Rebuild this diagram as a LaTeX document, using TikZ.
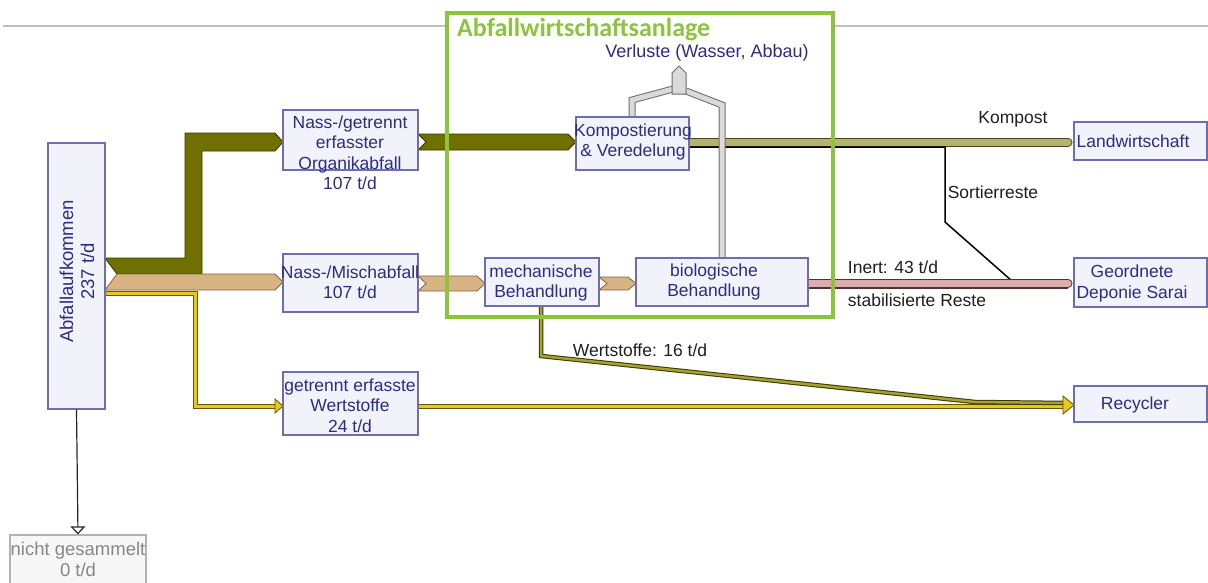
\documentclass[tikz,border=0pt]{standalone}
\usepackage{fontspec}
\setmainfont{Liberation Sans}
\newfontfamily\titlefont{Carlito}
\usetikzlibrary{arrows.meta}
\definecolor{boxfill}{RGB}{242,242,250}
\definecolor{boxdraw}{RGB}{110,110,175}
\definecolor{navy}{RGB}{45,45,125}
\definecolor{labcol}{RGB}{30,30,30}
\definecolor{greenbox}{RGB}{140,196,60}
\definecolor{olive}{RGB}{112,112,0}
\definecolor{olivedk}{RGB}{55,55,0}
\definecolor{tan}{RGB}{216,179,131}
\definecolor{tandk}{RGB}{130,100,60}
\definecolor{gold}{RGB}{232,200,30}
\definecolor{golddk}{RGB}{100,85,0}
\definecolor{kompcol}{RGB}{180,180,108}
\definecolor{kompdk}{RGB}{70,70,35}
\definecolor{pinkcol}{RGB}{221,172,172}
\definecolor{pinkdk}{RGB}{80,50,50}
\definecolor{wertcol}{RGB}{168,160,48}
\definecolor{lossfill}{RGB}{218,218,218}
\definecolor{lossdk}{RGB}{110,110,110}
\definecolor{greytxt}{RGB}{135,135,135}
\newcommand\myband[6]{%
 \filldraw[fill=#5,draw=#6,line width=0.8pt] (#1,#3) -- ({#2-8},#3) -- (#2,{(#3+#4)/2}) -- ({#2-8},#4) -- (#1,#4) -- ({#1+8},{(#3+#4)/2}) -- cycle;}
\tikzset{
 box/.style={draw=boxdraw,fill=boxfill,line width=1.3pt,rectangle,inner sep=0pt},
 btxt/.style={text=navy,align=center,inner sep=0pt,font=\fontsize{17.5}{20.5}\selectfont},
 ltxt/.style={text=labcol,inner sep=0pt,font=\fontsize{17.5}{20.5}\selectfont},
}
\begin{document}
\begin{tikzpicture}[x=1pt,y=-1pt]
\useasboundingbox (0,0) rectangle (1208,582);
% top rule
\draw[color=gray!50,line width=1.2pt] (3,26) -- (1208,26);
% green area background
\fill[white] (447,13) rectangle (833,317);
% bands
\filldraw[fill=olive,draw=olivedk,line width=0.8pt] (105,258) -- (185,258) -- (185,133) -- (275,133) -- (283,142) -- (275,151) -- (202,151) -- (202,274) -- (117,274) -- cycle;
\filldraw[fill=tan,draw=tandk,line width=0.8pt] (117,274) -- (275,274) -- (283,282) -- (275,290) -- (105,290) -- cycle;
\draw[draw=golddk,double=gold,double distance=3pt,line width=1pt] (105,293) -- (195,293) -- (195,406) -- (276,406);
\filldraw[fill=gold,draw=golddk,line width=0.8pt] (275,399) -- (283,406) -- (275,413) -- cycle;
\myband{418}{576}{134}{150}{olive}{olivedk}
\myband{418}{485}{276}{291}{tan}{tandk}
\myband{599}{636}{277}{290}{tan}{tandk}
% yellow to recycler
\draw[draw=golddk,double=gold,double distance=3pt,line width=1pt] (418,406) -- (1066,406);
\draw[draw=olivedk,double=wertcol,double distance=2.5pt,line width=1pt] (541,306) -- (541,356) -- (975,402) -- (1066,403);
\filldraw[fill=gold,draw=golddk,line width=0.8pt] (1063,396) -- (1074,405) -- (1063,414) -- cycle;
% kompost
\draw[draw=kompdk,double=kompcol,double distance=7pt,line width=1pt,line cap=round] (689,142) -- (1068,142);
\draw[black,line width=1.5pt] (689,147) -- (945,147) -- (945,222) -- (1012,281);
% inert
\draw[draw=pinkdk,double=pinkcol,double distance=7pt,line width=1pt,line cap=round] (808,283) -- (1068,283);
\draw[pinkdk,line width=1.3pt] (808,288) -- (1068,288);
% losses
\draw[draw=lossdk,double=lossfill,double distance=5pt,line width=1pt] (632,117) -- (632,100) -- (673,89);
\draw[draw=lossdk,double=lossfill,double distance=5pt,line width=1pt] (722,258) -- (722,105) -- (686,91);
\filldraw[fill=lossfill,draw=lossdk,line width=1pt] (672,94) -- (672,73) -- (679,66) -- (686,73) -- (686,94) -- cycle;
% boxes
\node[box,minimum width=57pt,minimum height=266pt] (abfall) at (76.5,276) {};
\node[box,minimum width=135pt,minimum height=60pt] (org) at (350.5,140) {};
\node[box,minimum width=135pt,minimum height=58pt] (misch) at (350.5,283) {};
\node[box,minimum width=135pt,minimum height=63pt] (wert) at (350.5,403.5) {};
\node[box,minimum width=113pt,minimum height=53pt] (komp) at (632.5,143.5) {};
\node[box,minimum width=114pt,minimum height=48pt] (mech) at (542,282) {};
\node[box,minimum width=172pt,minimum height=48pt] (bio) at (722,282) {};
\node[box,minimum width=133pt,minimum height=38pt] (land) at (1140.5,141) {};
\node[box,minimum width=133pt,minimum height=49pt] (dep) at (1140.5,282.5) {};
\node[box,minimum width=133pt,minimum height=36pt] (rec) at (1140.5,404) {};
\node[box,draw=gray!60,fill=gray!6,minimum width=136pt,minimum height=50pt] (nicht) at (78,560) {};
\draw[color=gray!30!black,line width=1.2pt,-{Triangle[open,width=15pt,length=8pt]}] (abfall.south) -- (nicht.north);
% texts
\node[btxt,rotate=90,font=\fontsize{18.5}{21}\selectfont] (tabfall) at (77,271.5) {Abfallaufkommen\\237 t/d};
\node[btxt] (torg) at (350,152.5) {Nass-/getrennt\\erfasster\\Organikabfall\\107 t/d};
\node[btxt] (tmisch) at (350,282) {Nass-/Mischabfall\\107 t/d};
\node[btxt] (twert) at (350,405.5) {getrennt erfasste\\Wertstoffe\\24 t/d};
\node[btxt] (tkomp) at (633,142) {Kompostierung\\\& Veredelung};
\node[btxt] (tmech) at (541,283) {mechanische\\Behandlung};
\node[btxt] (tbio) at (714,282) {biologische\\Behandlung};
\node[btxt] (tland) at (1133,141) {Landwirtschaft};
\node[btxt] (tdep) at (1132,283.5) {Geordnete\\Deponie Sarai};
\node[btxt] (trec) at (1135,405) {Recycler};
\node[btxt,text=greytxt,font=\fontsize{18.5}{21}\selectfont] (tnicht) at (78,559.5) {nicht gesammelt\\0 t/d};
\node[btxt,font=\fontsize{18}{21}\selectfont] (tverl) at (707,53) {Verluste (Wasser, Abbau)};
\node[ltxt] (lkomp) at (1013,119) {Kompost};
\node[ltxt] (lsort) at (993,192) {Sortierreste};
\node[ltxt] (linert) at (893,267) {Inert: 43 t/d};
\node[ltxt] (lstab) at (917,300) {stabilisierte Reste};
\node[ltxt] (lwert) at (640,350) {Wertstoffe: 16 t/d};
% green frame
\draw[greenbox,line width=3.5pt] (447,13) rectangle (833,317);
\node[anchor=west,inner sep=0pt,text=greenbox,font=\titlefont\bfseries\fontsize{26}{28}\selectfont] (title) at (457,29.5) {Abfallwirtschaftsanlage};
\end{tikzpicture}
\end{document}
